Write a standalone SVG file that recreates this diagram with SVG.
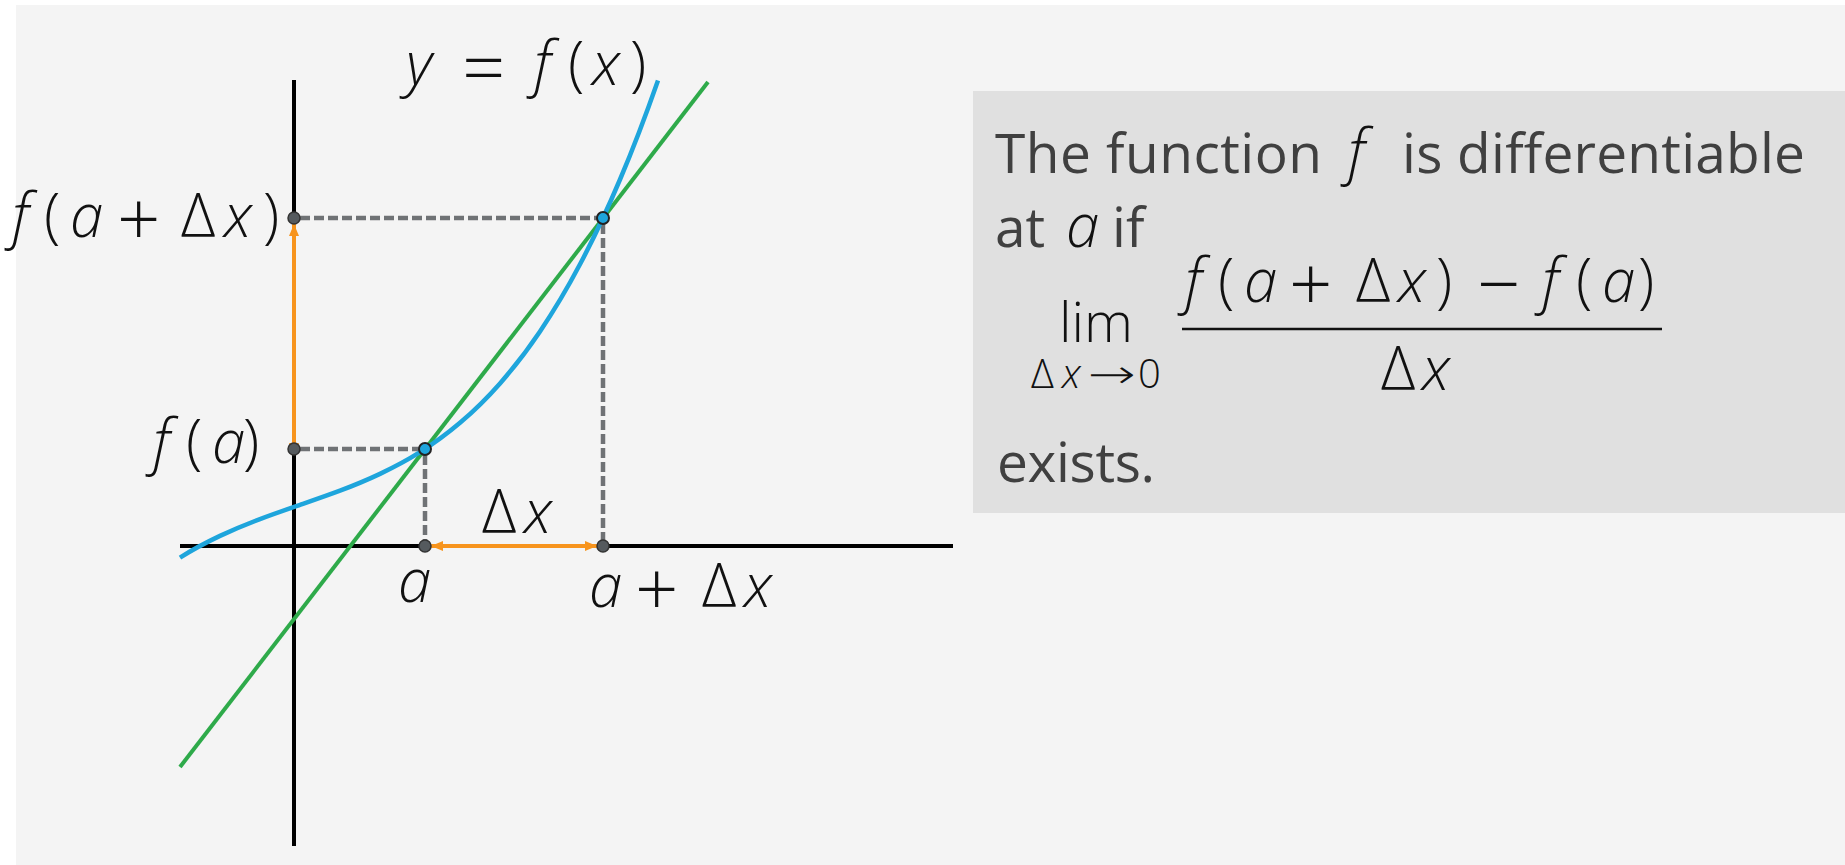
<svg xmlns="http://www.w3.org/2000/svg" width="1845" height="865" viewBox="0 0 1845 865">
  <style>
    .m { font-family: "Open Sans", "DejaVu Sans", sans-serif; font-weight: 300; font-size: 60px; fill: #111; }
    .i { font-style: italic; }
    .op { font-size: 76px; }
    .body { font-family: "Open Sans", "Liberation Sans", sans-serif; font-size: 55px; fill: #404040; }
    .axis { stroke: #000; stroke-width: 4; fill: none; }
    .dash { stroke: #6f7275; stroke-width: 4.5; stroke-dasharray: 10 4; fill: none; }
    .arrow { stroke: #f7941d; stroke-width: 4; fill: none; marker-start: url(#ah); marker-end: url(#ah); }
    .gdot { fill: #555a5e; stroke: #333; stroke-width: 1.5; }
    .bdot { fill: #1ea5dc; stroke: #222; stroke-width: 2; }
  </style>
  <defs>
    <marker id="ah" markerUnits="userSpaceOnUse" markerWidth="12" markerHeight="10" refX="12" refY="5" orient="auto-start-reverse">
      <path d="M0,0 L12,5 L0,10 z" fill="#f7941d"/>
    </marker>
  </defs>

  <rect width="1845" height="865" fill="#ffffff"/>
  <rect id="background" x="16" y="5" width="1829" height="860" fill="#f4f4f4"/>

  <g id="axes">
    <line class="axis" x1="294" y1="80" x2="294" y2="846"/>
    <line class="axis" x1="180" y1="546" x2="953" y2="546"/>
  </g>

  <g id="connectors">
    <line class="dash" x1="300" y1="218" x2="597" y2="218"/>
    <line class="dash" x1="603" y1="224" x2="603" y2="540"/>
    <line class="dash" x1="300" y1="449" x2="419" y2="449"/>
    <line class="dash" x1="425" y1="455" x2="425" y2="540"/>
  </g>

  <g id="secant-line">
    <line x1="180" y1="767" x2="708" y2="82" stroke="#2eaa4a" stroke-width="4"/>
  </g>

  <g id="curve">
    <path d="M180,557.6 C193.3,549.2 206.7,542.2 220,535.9 C233.3,529.6 246.7,524.1 260,519.1 C273.3,514.1 286.7,509.5 300,504.9 C313.3,500.3 326.7,495.7 340,490.7 C353.3,485.7 366.7,480.2 380,473.9 C393.3,467.6 406.7,460.6 420,452.2 C433.3,443.8 446.7,434.1 460,422.8 C473.3,411.5 486.7,398.5 500,383.4 C513.3,368.3 526.7,351.1 540,331.4 C553.3,311.7 566.7,289.5 580,264.3 C593.3,239.1 606.7,211 620,179.5 C632.7,149.6 645.3,116.7 658,80.4" fill="none" stroke="#1ea5dc" stroke-width="4.5"/>
  </g>

  <g id="increments">
    <line class="arrow" x1="294" y1="455" x2="294" y2="224"/>
    <line class="arrow" x1="431" y1="546" x2="597" y2="546"/>
  </g>

  <g id="point-fadx"><circle class="gdot" cx="294" cy="218" r="6"/></g>
  <g id="point-fa"><circle class="gdot" cx="294" cy="449" r="6"/></g>
  <g id="point-a"><circle class="gdot" cx="425" cy="546" r="6"/></g>
  <g id="point-adx"><circle class="gdot" cx="603" cy="546" r="6"/></g>
  <g id="curve-point-a"><circle class="bdot" cx="425" cy="449" r="6"/></g>
  <g id="curve-point-adx"><circle class="bdot" cx="603" cy="218" r="6"/></g>

  <g id="label-curve">
    <text class="m" y="85"><tspan class="i" x="406">y</tspan><tspan class="op" x="462" y="94">=</tspan><tspan class="i" x="534" y="85">f</tspan><tspan x="568">(</tspan><tspan class="i" x="592">x</tspan><tspan x="630">)</tspan></text>
  </g>
  <g id="label-fadx">
    <text class="m" y="237"><tspan class="i" x="12">f</tspan><tspan x="44">(</tspan><tspan class="i" x="70">a</tspan><tspan class="op" x="117" y="246">+</tspan><tspan x="181" y="237">Δ</tspan><tspan class="i" x="224">x</tspan><tspan x="263">)</tspan></text>
  </g>
  <g id="label-fa">
    <text class="m" y="463"><tspan class="i" x="153">f</tspan><tspan x="186">(</tspan><tspan class="i" x="212">a</tspan><tspan x="243">)</tspan></text>
  </g>
  <g id="label-a">
    <text class="m i" x="398" y="602">a</text>
  </g>
  <g id="label-adx">
    <text class="m" y="607"><tspan class="i" x="589">a</tspan><tspan class="op" x="635" y="616">+</tspan><tspan x="702" y="607">Δ</tspan><tspan class="i" x="744">x</tspan></text>
  </g>
  <g id="label-dx">
    <text class="m" y="533"><tspan x="482">Δ</tspan><tspan class="i" x="524">x</tspan></text>
  </g>

  <g id="definition-box">
    <rect x="973" y="91" width="872" height="422" fill="#e0e0e0"/>
    <text class="body" x="995" y="173" textLength="327" lengthAdjust="spacing">The function</text>
    <text class="m i" x="1348" y="173">f</text>
    <text class="body" x="1402" y="173" textLength="403" lengthAdjust="spacing">is differentiable</text>
    <text class="body" x="995" y="247">at</text>
    <text class="m i" x="1066" y="247">a</text>
    <text class="body" x="1112" y="247">if</text>
    <text class="m" x="1059" y="342" textLength="74" lengthAdjust="spacingAndGlyphs" style="font-size:56px">lim</text>
    <text class="m" y="388" style="font-size:40px"><tspan x="1031">Δ</tspan><tspan class="i" x="1062">x</tspan></text>
    <text x="1088" y="388" textLength="48" lengthAdjust="spacingAndGlyphs" style="font-family:'DejaVu Sans',sans-serif;font-size:40px;font-weight:200;fill:#111">→</text>
    <text class="m" x="1138" y="388" style="font-size:40px">0</text>
    <text class="m" y="302"><tspan class="i" x="1185">f</tspan><tspan x="1218">(</tspan><tspan class="i" x="1244">a</tspan><tspan class="op" x="1289" y="311">+</tspan><tspan x="1356" y="302">Δ</tspan><tspan class="i" x="1398">x</tspan><tspan x="1436">)</tspan><tspan class="op" x="1477" y="311">−</tspan><tspan class="i" x="1542" y="302">f</tspan><tspan x="1576">(</tspan><tspan class="i" x="1602">a</tspan><tspan x="1638">)</tspan></text>
    <line x1="1182" y1="329" x2="1662" y2="329" stroke="#111" stroke-width="2.5"/>
    <text class="m" y="390"><tspan x="1381">Δ</tspan><tspan class="i" x="1422">x</tspan></text>
    <text class="body" x="997" y="482" textLength="158" lengthAdjust="spacing">exists.</text>
  </g>
</svg>
